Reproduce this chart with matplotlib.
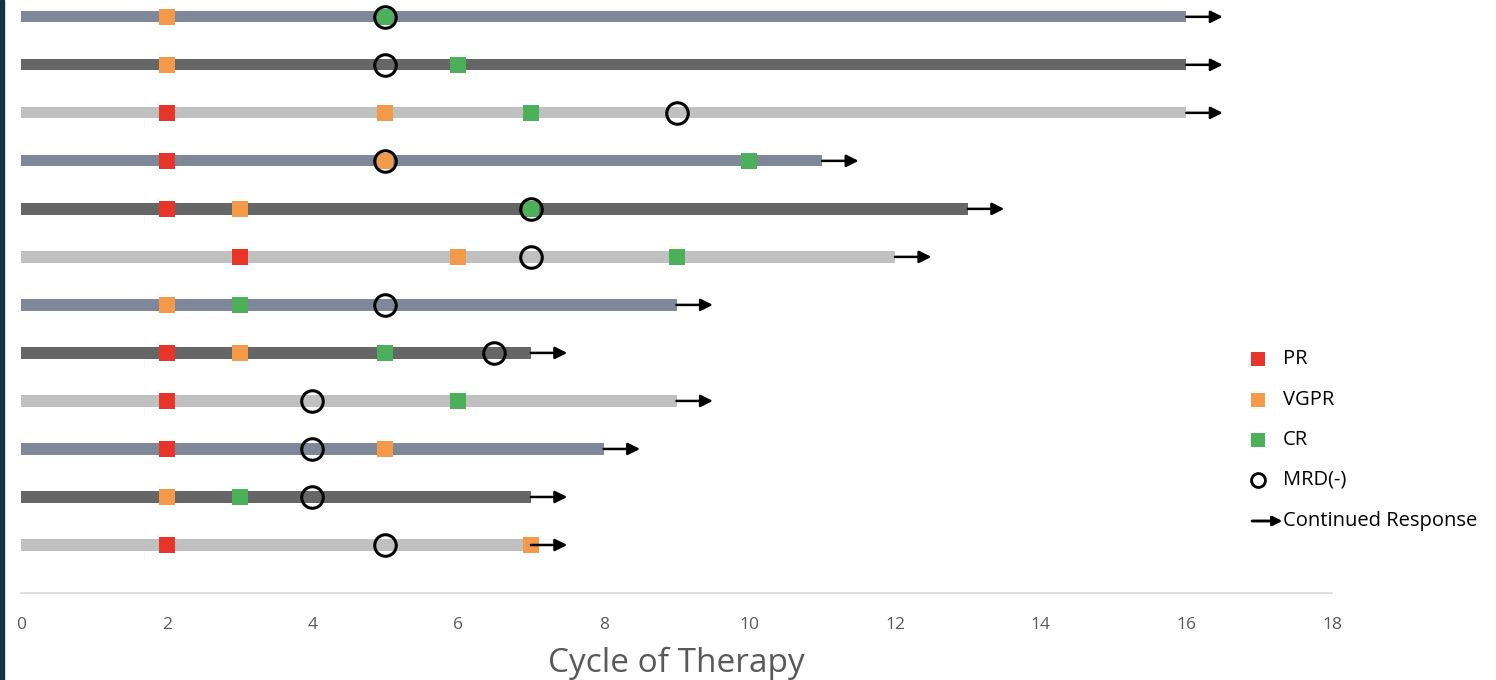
import matplotlib.pyplot as plt
from matplotlib.lines import Line2D
from matplotlib.patches import Rectangle

plt.rcParams['font.family'] = ['Open Sans', 'DejaVu Sans']

# one row per patient, top to bottom
bar_end = [16, 16, 16, 11, 13, 12, 9, 7, 9, 8, 7, 7]
pr = [None, None, 2, 2, 2, 3, None, 2, 2, 2, None, 2]
vgpr = [2, 2, 5, 5, 3, 6, 2, 3, None, 5, 2, 7]
cr = [5, 6, 7, 10, 7, 9, 3, 5, 6, None, 3, None]
mrd = [5, 5, 9, 5, 7, 7, 5, 6.5, 4, 4, 4, 5]
arrow_len = 0.5

bar_colors = ['#7f8899', '#666666', '#c0c0c0']
c_pr, c_vgpr, c_cr = '#e8352a', '#f29a4a', '#4caf5a'

n = len(bar_end)
ypos = [n - i for i in range(n)]

fig = plt.figure(figsize=(14.96, 6.8), dpi=100)
ax = fig.add_axes([21 / 1496, 1 - 593 / 680, 1311 / 1496, 593 / 680])

ax.barh(ypos, bar_end, left=0, height=0.235,
        color=[bar_colors[i % 3] for i in range(n)], zorder=1)

for vals, col in [(pr, c_pr), (vgpr, c_vgpr), (cr, c_cr)]:
    xs = [v for v in vals if v is not None]
    ys = [y for v, y in zip(vals, ypos) if v is not None]
    ax.plot(xs, ys, 's', color=col, markersize=11.5, markeredgewidth=0, zorder=2)

ax.plot(mrd, ypos, 'o', markerfacecolor='none', markeredgecolor='black',
        markersize=15.5, markeredgewidth=2.2, zorder=3)

for e, y in zip(bar_end, ypos):
    ax.annotate('', xy=(e + arrow_len, y), xytext=(e, y),
                arrowprops=dict(arrowstyle='-|>', color='black', lw=1.8,
                                mutation_scale=18, shrinkA=0, shrinkB=0),
                zorder=4)

ax.set_xlim(0, 18)
ax.set_ylim(0, 12.35)
ax.set_xticks(range(0, 19, 2))
ax.set_yticks([])
ax.tick_params(axis='x', length=0, pad=17, labelsize=12.5, labelcolor='#595959')
for s in ['top', 'right', 'left']:
    ax.spines[s].set_visible(False)
ax.spines['bottom'].set_color('#d9d9d9')
ax.spines['bottom'].set_linewidth(1.2)
ax.set_xlabel('Cycle of Therapy', fontsize=24, color='#595959', labelpad=10)
ax.patch.set_visible(False)

# legend, drawn by hand
leg_x, leg_tx = 1258 / 1496, 1283 / 1496
leg_rows = [359, 400, 440, 480, 521]
leg_items = [('s', c_pr, 'PR'), ('s', c_vgpr, 'VGPR'), ('s', c_cr, 'CR'),
             ('o', None, 'MRD(-)')]
for (m, col, lab), py in zip(leg_items, leg_rows):
    yf = 1 - py / 680
    if m == 's':
        fig.add_artist(Line2D([leg_x], [yf], marker='s', color=col, markersize=10,
                              markeredgewidth=0, transform=fig.transFigure))
    else:
        fig.add_artist(Line2D([leg_x], [yf], marker='o', markerfacecolor='none',
                              markeredgecolor='black', markersize=10, markeredgewidth=2,
                              transform=fig.transFigure))
    fig.text(leg_tx, yf, lab, fontsize=14.5, va='center', ha='left')

yf = 1 - leg_rows[-1] / 680
fig.add_artist(plt.annotate('', xy=(1282 / 1496, yf), xytext=(1252 / 1496, yf),
                            xycoords='figure fraction',
                            arrowprops=dict(arrowstyle='-|>', color='black', lw=1.8,
                                            mutation_scale=14, shrinkA=0, shrinkB=0)))
fig.text(leg_tx, yf, 'Continued Response', fontsize=14.5, va='center', ha='left')

# dark strip on the left edge
fig.add_artist(Rectangle((0, 0), 4 / 1496, 1, transform=fig.transFigure,
                         color='#12324a', zorder=10))

fig.savefig('out.png', dpi=100)
